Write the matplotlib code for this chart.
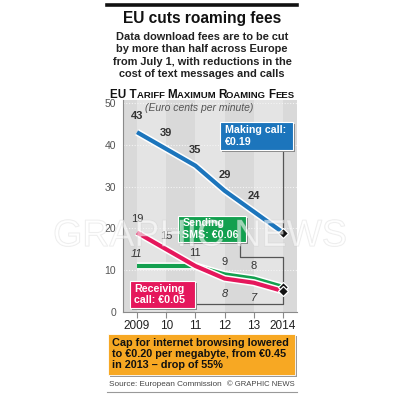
import matplotlib
matplotlib.use("Agg")
import matplotlib.pyplot as plt
import matplotlib.patheffects as pe
from matplotlib.patches import Rectangle

# data
years = [2009, 2010, 2011, 2012, 2013, 2014]
making_call = [43, 39, 35, 29, 24, 19]
sending_sms = [11, 11, 11, 9, 8, 6]
receiving_call = [19, 15, 11, 8, 7, 5]
y_ticks = [0, 10, 20, 30, 40, 50]
x_labels = ["2009", "10", "11", "12", "13", "2014"]

BLUE = "#1c75bc"
GREEN = "#13a04f"
RED = "#e5175c"
ORANGE = "#f7a823"
SANS = ["Liberation Sans", "DejaVu Sans"]

W, H = 404, 396
fig = plt.figure(figsize=(W / 100, H / 100), dpi=100)


def fx(px):
    return px / W


def fy(py):
    return 1 - py / H


# header
fig.add_artist(plt.Line2D([fx(107), fx(297)], [fy(5), fy(5)], color="#111111", lw=2.6))
fig.text(fx(202), fy(19), "EU cuts roaming fees", ha="center", va="center",
         fontsize=11.2, fontweight="bold", family=SANS, color="#111111")
subtitle = ["Data download fees are to be cut", "by more than half across Europe",
            "from July 1, with reductions in the", "cost of text messages and calls"]
for i, line in enumerate(subtitle):
    fig.text(fx(202), fy(37 + i * 12.4), line, ha="center", va="center",
             fontsize=7.9, fontweight="bold", family=SANS, color="#222222")

# section title in small caps
pieces = [("EU T", 8.4), ("ARIFF ", 6.8), ("M", 8.4), ("AXIMUM ", 6.8),
          ("R", 8.4), ("OAMING ", 6.8), ("F", 8.4), ("EES", 6.8)]
renderer = fig.canvas.get_renderer()
xpos = fx(110)
for s, size in pieces:
    t = fig.text(xpos, fy(98), s, ha="left", va="baseline", fontsize=size,
                 fontweight="bold", family=SANS, color="#111111")
    bb = t.get_window_extent(renderer)
    xpos += bb.width / W

# axes
ax = fig.add_axes([fx(123), fy(312), fx(297) - fx(123), fy(100) - fy(312)])
ax.set_xlim(2008.52, 2014.48)
ax.set_ylim(0, 50.7)
ax.set_facecolor("#d9d9d9")
for y0 in [2009, 2011, 2013]:
    ax.axvspan(y0, y0 + 1, color="#e4e4e4", lw=0, zorder=0)
for v in y_ticks[1:]:
    ax.axhline(v, color="#f4f4f4", lw=0.8, ls=(0, (1, 1.5)), zorder=1)

for side in ["top", "right"]:
    ax.spines[side].set_visible(False)
ax.spines["left"].set_color("#8a8a8a")
ax.spines["bottom"].set_color("#8a8a8a")
ax.set_yticks(y_ticks)
ax.set_yticklabels([str(v) for v in y_ticks], fontsize=7.5, color="#555555", family=SANS)
ax.tick_params(axis="y", length=0, pad=5)
ax.set_xticks(years)
ax.set_xticklabels(x_labels, fontsize=8.5, color="#222222", family=SANS)
ax.tick_params(axis="x", length=4, color="#8a8a8a", direction="out", pad=2)

ax.text(2009.28, 48.8, "(Euro cents per minute)", fontsize=7.5, style="italic",
        color="#555555", family=SANS, va="center", ha="left")

# faint watermark
fig.text(fx(200), fy(236), "GRAPHIC NEWS", ha="center", va="center", fontsize=27,
         family=SANS, color="white", alpha=0.35, zorder=1.5,
         path_effects=[pe.Stroke(linewidth=0.8, foreground="#c8c8c8"), pe.Normal()])

# lines
outline = [pe.Stroke(linewidth=5.2, foreground="white"), pe.Normal()]
for vals, col in [(making_call, BLUE), (sending_sms, GREEN), (receiving_call, RED)]:
    ax.plot(years, vals, color=col, lw=3.0, solid_capstyle="butt",
            path_effects=outline, zorder=4)

# connectors
con = dict(color="#555555", lw=0.9, zorder=3, clip_on=False)
ax.plot([2014, 2014], [38.8, making_call[-1]], **con)
ax.plot([2012.53, 2012.53, 2014, 2014], [16.7, 13.2, 13.2, sending_sms[-1]], **con)
ax.plot([2010.99, 2014, 2014], [1.9, 1.9, receiving_call[-1]], **con)

# end markers
for vals in [making_call, sending_sms, receiving_call]:
    ax.plot(years[-1], vals[-1], marker="D", ms=5.5, color="#111111",
            mec="white", mew=0.9, zorder=6, clip_on=False)

# value labels
lab = dict(ha="center", va="center", fontsize=8, color="#333333", family=SANS, zorder=5)
for x, v in zip(years[:-1], making_call[:-1]):
    ax.text(x, v + 3.8, str(v), fontweight="bold", **lab)
for x, v in zip(years[:3], receiving_call[:3]):
    ax.text(x, v + 3.2, str(v), **lab)
for x, v in zip(years[3:5], receiving_call[3:5]):
    ax.text(x, v - 3.6, str(v), style="italic", **lab)
ax.text(years[0], sending_sms[0] + 2.9, str(sending_sms[0]), style="italic", **lab)
for x, v in zip(years[3:5], sending_sms[3:5]):
    ax.text(x, v + 2.9, str(v), **lab)


# callout boxes
def callout(x0, x1, y0, y1, col, text, tx):
    dx = 0.07
    dy = 0.5
    ax.add_patch(Rectangle((x0 + dx, y0 - dy), x1 - x0, y1 - y0, facecolor="#888888",
                           edgecolor="none", zorder=6, clip_on=False))
    ax.add_patch(Rectangle((x0, y0), x1 - x0, y1 - y0, facecolor=col,
                           edgecolor="white", lw=0.8, zorder=7, clip_on=False))
    ax.text(tx, (y0 + y1) / 2, text, ha="left", va="center", fontsize=7.7,
            fontweight="bold", color="white", family=SANS, zorder=8,
            linespacing=1.2)


callout(2011.84, 2014.34, 38.8, 45.5, BLUE, "Making call:\n€0.19", 2012.0)
callout(2010.40, 2012.73, 16.7, 23.0, GREEN, "Sending\nSMS: €0.06", 2010.55)
callout(2008.76, 2010.99, 1.0, 7.4, RED, "Receiving\ncall: €0.05", 2008.9)

# orange note
fig.add_artist(Rectangle((fx(110), fy(377)), fx(295) - fx(108), fy(334) - fy(375),
                         facecolor="#999999", edgecolor="none", transform=fig.transFigure))
fig.add_artist(Rectangle((fx(108), fy(375)), fx(295) - fx(108), fy(334) - fy(375),
                         facecolor=ORANGE, edgecolor="white", lw=0.6,
                         transform=fig.transFigure))
note = ["Cap for internet browsing lowered", "to €0.20 per megabyte, from €0.45",
        "in 2013 – drop of 55%"]
for i, line in enumerate(note):
    fig.text(fx(112), fy(343.5 + i * 10.6), line, ha="left", va="center",
             fontsize=7.8, fontweight="bold", family=SANS, color="#111111")

fig.text(fx(109), fy(385), "Source: European Commission", ha="left", va="center",
         fontsize=5.9, family=SANS, color="#444444")
fig.text(fx(295), fy(385), "© GRAPHIC NEWS", ha="right", va="center",
         fontsize=5.5, family=SANS, color="#444444")
fig.add_artist(plt.Line2D([fx(107), fx(297)], [fy(392), fy(392)], color="#999999", lw=0.8))

fig.savefig("out.png", dpi=100)
